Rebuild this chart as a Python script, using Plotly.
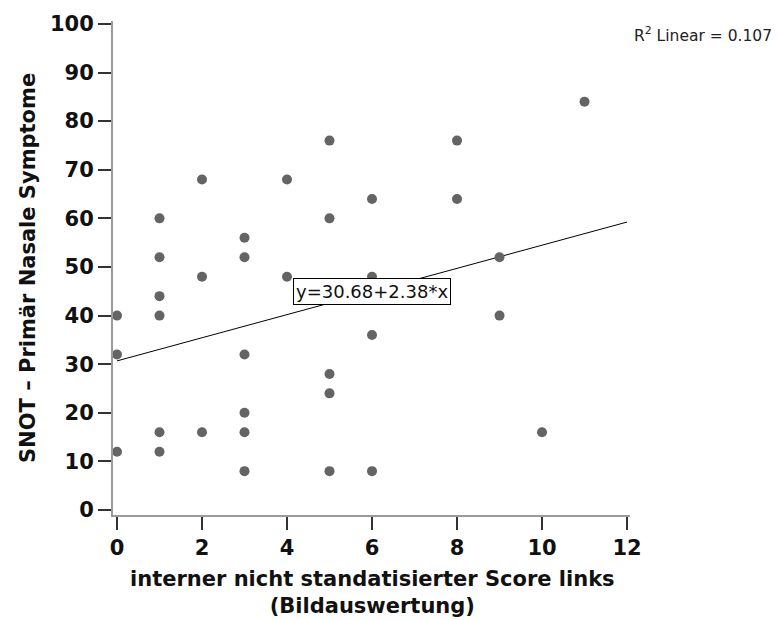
import plotly.graph_objects as go

# Data
x_vals = [0, 0, 0,
          1, 1, 1, 1, 1, 1,
          2, 2, 2,
          3, 3, 3, 3, 3, 3,
          4, 4,
          5, 5, 5, 5, 5,
          6, 6, 6, 6,
          8, 8,
          9, 9,
          10,
          11]
y_vals = [40, 32, 12,
          60, 52, 44, 40, 16, 12,
          68, 48, 16,
          56, 52, 32, 20, 16, 8,
          68, 48,
          76, 60, 28, 24, 8,
          64, 48, 36, 8,
          76, 64,
          52, 40,
          16,
          84]

fit_intercept = 30.68
fit_slope = 2.38
fit_x = [0, 12]
fit_y = [fit_intercept + fit_slope * v for v in fit_x]
r2_text = "R<sup>2</sup> Linear = 0.107"
eq_text = "y=30.68+2.38*x"

x_ticks = [0, 2, 4, 6, 8, 10, 12]
y_ticks = [0, 10, 20, 30, 40, 50, 60, 70, 80, 90, 100]

x_title_1 = "interner nicht standatisierter Score links"
x_title_2 = "(Bildauswertung)"
y_title = "SNOT – Primär Nasale Symptome"

FONT = "DejaVu Sans"

fig = go.Figure()
fig.add_trace(go.Scatter(
    x=fit_x, y=fit_y, mode="lines",
    line=dict(color="black", width=1),
    showlegend=False, hoverinfo="skip"))
fig.add_trace(go.Scatter(
    x=x_vals, y=y_vals, mode="markers",
    marker=dict(size=10, color="#646464", line=dict(width=0)),
    showlegend=False))

W, H = 778, 620
L, R, T, B = 113, 148, 17, 105
pw = W - L - R
ph = H - T - B

fig.update_layout(
    width=W, height=H,
    margin=dict(l=L, r=R, t=T, b=B, pad=0),
    paper_bgcolor="white", plot_bgcolor="white",
    font=dict(family=FONT, color="#111"),
    xaxis=dict(
        range=[-0.094, 12.07],
        tickmode="array", tickvals=x_ticks,
        showgrid=False, zeroline=False,
        showline=True, linecolor="#9a9a9a", linewidth=2,
        ticks="outside", ticklen=13, tickwidth=1.5, tickcolor="#333",
        tickfont=dict(family=FONT, size=21, color="#111", weight="bold"),
    ),
    yaxis=dict(
        range=[-1.02, 100.6],
        tickmode="array", tickvals=y_ticks,
        showgrid=False, zeroline=False,
        showline=True, linecolor="#9a9a9a", linewidth=2,
        ticks="outside", ticklen=13, tickwidth=1.5, tickcolor="#333",
        tickfont=dict(family=FONT, size=21, color="#111", weight="bold"),
    ),
)

annotations = [
    dict(text=x_title_1 + "<br>" + x_title_2,
         xref="paper", yref="paper",
         x=(372 - L) / pw, y=(H - B - 593) / ph,
         xanchor="center", yanchor="middle", showarrow=False,
         font=dict(family=FONT, size=21, color="#111", weight="bold")),
    dict(text=y_title, xref="paper", yref="paper",
         x=(28 - L) / pw, y=0.5, textangle=-90,
         xanchor="center", yanchor="middle", showarrow=False,
         font=dict(family=FONT, size=21, color="#111", weight="bold")),
    dict(text=r2_text, xref="paper", yref="paper",
         x=(632 - L) / pw, y=(H - B - 31) / ph,
         xanchor="left", yanchor="middle", showarrow=False,
         font=dict(family=FONT, size=15.5, color="#222")),
    dict(text=eq_text, xref="x", yref="y",
         x=6.0, y=44.9, xanchor="center", yanchor="middle",
         showarrow=False, bgcolor="white",
         bordercolor="black", borderwidth=1, borderpad=2,
         font=dict(family=FONT, size=18, color="#111")),
]
fig.update_layout(annotations=annotations)

fig.write_html("out.html")
